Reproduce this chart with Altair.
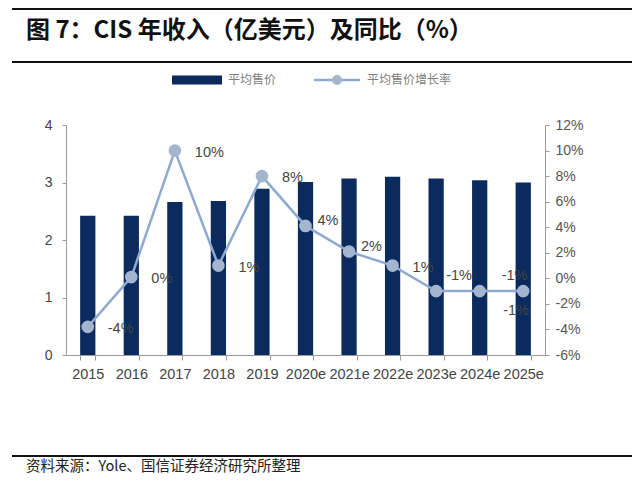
import altair as alt
import pandas as pd

years = ["2015", "2016", "2017", "2018", "2019", "2020e", "2021e", "2022e", "2023e", "2024e", "2025e"]
revenue = [2.42, 2.42, 2.66, 2.68, 2.89, 3.01, 3.07, 3.10, 3.07, 3.04, 3.00]
growth = [-0.038, 0.001, 0.100, 0.010, 0.080, 0.041, 0.021, 0.010, -0.010, -0.010, -0.010]
growth_labels = ["-4%", "0%", "10%", "1%", "8%", "4%", "2%", "1%", "-1%", "-1%", "-1%"]

# label placement groups (by category)
grp_right = ["2015", "2016", "2017", "2018", "2019", "2022e"]
grp_upright = ["2020e", "2021e"]
grp_above = ["2023e"]
grp_above_far = ["2024e"]
grp_belowleft = ["2025e"]

title_text = "图 7：CIS 年收入（亿美元）及同比（%）"
legend_bar = "平均售价"
legend_line = "平均售价增长率"
source_text = "资料来源：Yole、国信证券经济研究所整理"

df = pd.DataFrame({"year": years, "revenue": revenue, "growth": growth, "label": growth_labels})

BAR = "#0b2a5e"
LINE = "#8eaad0"
PT = "#a3b5cf"
AX = "#9a9a9a"
LAB = "#444444"
FONT = "Liberation Sans"
CJK = "Noto Sans CJK SC"

xenc = alt.X(
    "year:N", sort=years, title=None,
    scale=alt.Scale(paddingInner=0.65, paddingOuter=0.325),
    axis=alt.Axis(labelAngle=0, tickBand="extent", domainColor=AX, tickColor=AX, tickSize=5,
                  labelFont=FONT, labelFontSize=14.5, labelColor=LAB, labelPadding=7),
)

bars = alt.Chart(df).mark_bar(color=BAR).encode(
    x=xenc,
    y=alt.Y("revenue:Q", title=None,
            scale=alt.Scale(domain=[0, 4], nice=False),
            axis=alt.Axis(values=[0, 1, 2, 3, 4], grid=False, domainColor=AX, tickColor=AX, tickSize=4,
                          labelFont=FONT, labelFontSize=14, labelColor=LAB, labelPadding=10)),
)

gscale = alt.Scale(domain=[-0.06, 0.12], nice=False)

line = alt.Chart(df).mark_line(color=LINE, strokeWidth=2.5).encode(
    x=alt.X("year:N", sort=years),
    y=alt.Y("growth:Q", title=None, scale=gscale,
            axis=alt.Axis(orient="right", values=[-0.06, -0.04, -0.02, 0, 0.02, 0.04, 0.06, 0.08, 0.10, 0.12],
                          labelExpr="round(datum.value*100) + '%'", grid=False,
                          domainColor=AX, tickColor=AX, tickSize=4,
                          labelFont=FONT, labelFontSize=14, labelColor="#555555", labelPadding=6)),
)

points = alt.Chart(df).mark_point(filled=True, color=PT, size=160, opacity=1).encode(
    x=alt.X("year:N", sort=years),
    y=alt.Y("growth:Q", scale=gscale, axis=None),
)


def labels(group, dx, dy, align="left"):
    return alt.Chart(df).transform_filter(
        alt.FieldOneOfPredicate(field="year", oneOf=group)
    ).mark_text(align=align, baseline="middle", dx=dx, dy=dy, font=FONT, fontSize=14.5, color=LAB).encode(
        x=alt.X("year:N", sort=years),
        y=alt.Y("growth:Q", scale=gscale, axis=None),
        text="label:N",
    )


one = alt.Data(values=[{"a": 1}])


def hrule(y, width=2):
    return alt.Chart(one).mark_rule(color="#111111", strokeWidth=width).encode(
        x=alt.value(-54), x2=alt.value(566), y=alt.value(y))


def txt(x, y, s, font, size, color, weight="normal"):
    return alt.Chart(one).mark_text(align="left", baseline="middle", font=font, fontSize=size,
                                    color=color, fontWeight=weight).encode(
        x=alt.value(x), y=alt.value(y), text=alt.value(s))


deco = [
    hrule(-116),
    hrule(-63),
    hrule(331),
    txt(-40, -94, title_text, CJK, 24, "#111111", "bold"),
    alt.Chart(one).mark_rule(color=BAR, strokeWidth=9).encode(
        x=alt.value(106), x2=alt.value(156), y=alt.value(-45)),
    txt(162, -45, legend_bar, CJK, 12, "#808080"),
    alt.Chart(one).mark_rule(color=LINE, strokeWidth=2.5).encode(
        x=alt.value(248), x2=alt.value(294), y=alt.value(-45)),
    alt.Chart(one).mark_point(filled=True, color=PT, size=100, opacity=1).encode(
        x=alt.value(271), y=alt.value(-45)),
    txt(301, -45, legend_line, CJK, 12, "#808080"),
    txt(-40, 342, source_text, CJK, 14.5, "#222222"),
]

chart = alt.layer(
    bars, line, points,
    labels(grp_right, 20, 2),
    labels(grp_upright, 12, -5),
    labels(grp_above, 10, -15),
    labels(grp_above_far, 22, -15),
    labels(grp_belowleft, -20, 20),
    *deco,
).resolve_scale(y="independent").properties(
    width=479, height=230,
    autosize=alt.AutoSizeParams(type="none"),
    padding={"left": 58, "top": 117, "right": 87, "bottom": 125},
    background="white",
).configure_view(stroke=None)

chart.save("out.html", embed_options={"renderer": "svg", "actions": False})
